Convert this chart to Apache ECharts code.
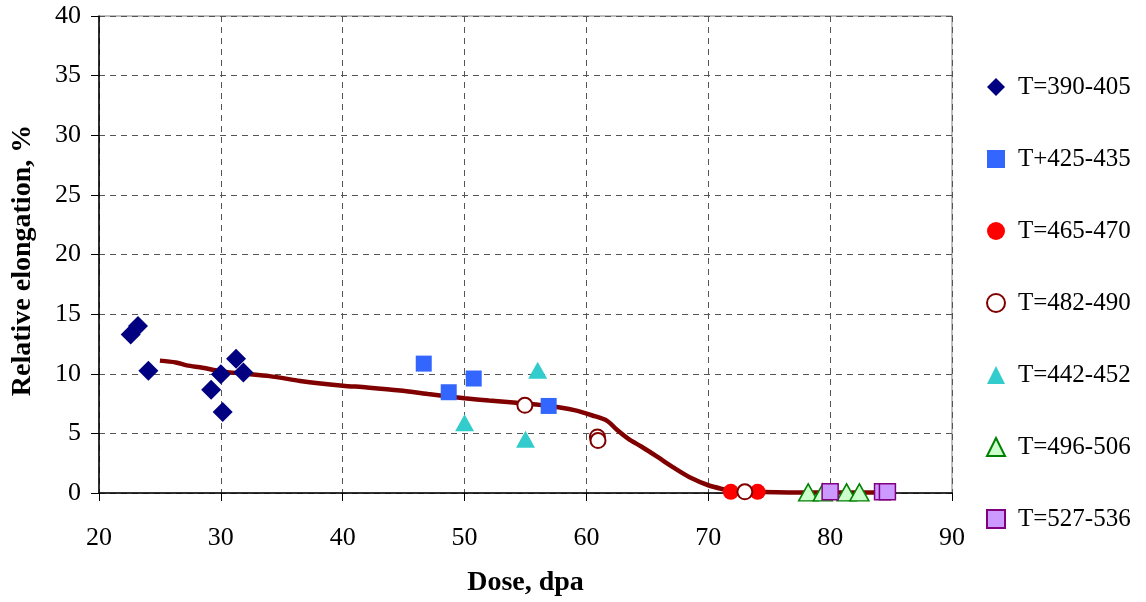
<!DOCTYPE html>
<html>
<head>
<meta charset="utf-8">
<script src="https://cdn.jsdelivr.net/npm/echarts@6/dist/echarts.min.js"></script>
<style>
  html, body { margin: 0; padding: 0; background: #fff; }
  #chart { width: 1146px; height: 602px; }
</style>
</head>
<body>
<div id="chart"></div>
<script>
// data: [dose, elongation]
const t390 = [[23.2, 14.0], [22.6, 13.3], [24.05, 10.25], [31.25, 11.25], [30.0, 9.95], [31.85, 10.1], [29.2, 8.65], [30.15, 6.8]]
const t425 = [[46.65, 10.85], [48.7, 8.45], [50.75, 9.6], [56.9, 7.3]]
const t465 = [[71.85, 0.1], [74.05, 0.1]]
const t482 = [[54.95, 7.35], [60.9, 4.7], [60.95, 4.4], [73.0, 0.1]]
const t442 = [[56.0, 10.3], [50.0, 5.9], [55.0, 4.5]]
const t496 = [[78.2, 0.05], [79.4, 0.05], [81.35, 0.05], [82.4, 0.05]]
const t527 = [[80.0, 0.1], [84.3, 0.1], [84.7, 0.1]]
const trend = [
  [25, 11.1], [26.3, 10.95], [27.2, 10.7], [28.5, 10.5], [30, 10.2], [32, 10.0], [34, 9.8],
  [36.5, 9.4], [38, 9.2], [40, 9.0], [42, 8.85], [44.7, 8.6], [47, 8.3], [50, 7.95], [52, 7.75],
  [55, 7.5], [57, 7.3], [59, 6.95], [60.5, 6.5], [61.7, 6.05], [62.5, 5.3], [63.5, 4.5],
  [64.5, 3.9], [65.8, 3.05], [67.2, 2.1], [68.6, 1.25], [70, 0.65], [71.3, 0.3], [72, 0.15],
  [74, 0.1], [78, 0.05], [84, 0.05]
]
const legendNames = ['T=390-405', 'T+425-435', 'T=465-470', 'T=482-490', 'T=442-452', 'T=496-506', 'T=527-536']

const FONT = 'Liberation Serif'

function scatter (name, data, symbol, size, itemStyle) {
  itemStyle.opacity = 1
  return {
    name: name,
    type: 'scatter',
    data: data,
    symbol: symbol,
    symbolSize: size,
    clip: false,
    z: 3,
    itemStyle: itemStyle
  }
}

const chart = echarts.init(document.getElementById('chart'))
chart.setOption({
  animation: false,
  grid: {
    left: 99,
    top: 16,
    right: 194,
    bottom: 109,
    show: true,
    borderColor: '#808080',
    borderWidth: 1
  },
  legend: {
    orient: 'vertical',
    left: 981,
    top: 69,
    itemWidth: 18,
    itemHeight: 18,
    itemGap: 46,
    data: legendNames,
    textStyle: {
      fontFamily: FONT,
      fontSize: 25,
      lineHeight: 26,
      color: '#000',
      padding: [0, 0, 0, 8]
    }
  },
  xAxis: {
    type: 'value',
    min: 20,
    max: 90,
    interval: 10,
    name: 'Dose, dpa',
    nameLocation: 'middle',
    nameGap: 76,
    nameTextStyle: { fontFamily: FONT, fontSize: 28, fontWeight: 'bold', color: '#000' },
    axisLine: { lineStyle: { color: '#000', width: 1.5 } },
    axisTick: { length: 8, lineStyle: { color: '#000' } },
    axisLabel: { fontFamily: FONT, fontSize: 26, color: '#000', margin: 32 },
    splitLine: { lineStyle: { color: '#555', type: [6, 5], width: 1 } }
  },
  yAxis: {
    type: 'value',
    min: 0,
    max: 40,
    interval: 5,
    name: 'Relative elongation, %',
    nameLocation: 'middle',
    nameGap: 62,
    nameTextStyle: { fontFamily: FONT, fontSize: 28, fontWeight: 'bold', color: '#000', padding: [0, 12, 0, 0] },
    axisLine: { show: true, lineStyle: { color: '#000', width: 1.5 } },
    axisTick: { show: true, length: 8, lineStyle: { color: '#000' } },
    axisLabel: { fontFamily: FONT, fontSize: 26, color: '#000', margin: 18 },
    splitLine: { lineStyle: { color: '#555', type: [6, 5], width: 1 } }
  },
  series: [
    {
      name: 'trend',
      type: 'line',
      data: trend,
      smooth: 0.3,
      showSymbol: false,
      z: 2,
      lineStyle: { color: '#800000', width: 4.5 }
    },
    scatter('T=390-405', t390, 'diamond', 20, { color: '#000080' }),
    scatter('T+425-435', t425, 'rect', 16, { color: '#3366ff' }),
    scatter('T=465-470', t465, 'circle', 16, { color: '#ff0000' }),
    scatter('T=482-490', t482, 'circle', 15, { color: '#ffffff', borderColor: '#800000', borderWidth: 2 }),
    scatter('T=442-452', t442, 'triangle', [19, 17], { color: '#33cccc' }),
    scatter('T=496-506', t496, 'triangle', [19, 17], { color: '#ccffcc', borderColor: '#008000', borderWidth: 1.5 }),
    scatter('T=527-536', t527, 'rect', 16, { color: '#cc99ff', borderColor: '#800080', borderWidth: 1.5 })
  ]
})
</script>
</body>
</html>
